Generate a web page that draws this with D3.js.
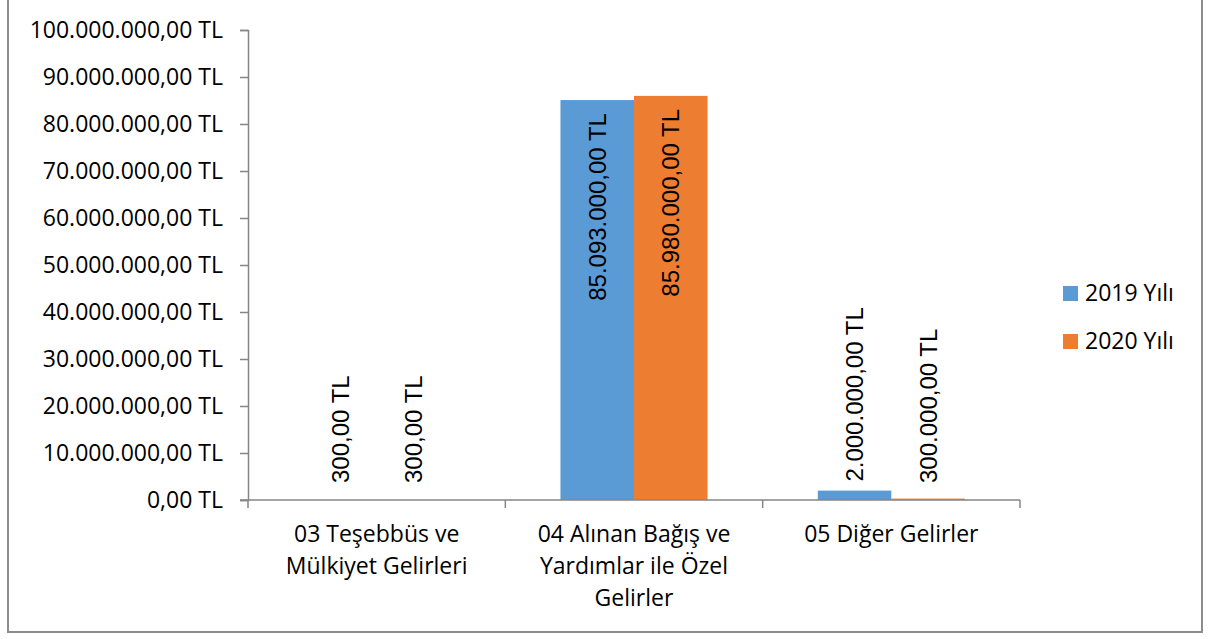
<!DOCTYPE html>
<html>
<head>
<meta charset="utf-8">
<script src="https://cdn.jsdelivr.net/npm/d3@7"></script>
<style>
  body { margin: 0; background: #fff; }
  svg { display: block; }
  .tick text { font-family: "Open Sans", sans-serif; font-size: 23px; fill: #000; }
</style>
</head>
<body>
<script>
// chart data
let categories = ["03 Teşebbüs ve\nMülkiyet Gelirleri", "04 Alınan Bağış ve\nYardımlar ile Özel\nGelirler", "05 Diğer Gelirler"];
let seriesNames = ["2019 Yılı", "2020 Yılı"];
let values2019 = [300, 85093000, 2000000];
let values2020 = [300, 85980000, 300000];
let yTicks = [0, 10000000, 20000000, 30000000, 40000000, 50000000, 60000000, 70000000, 80000000, 90000000, 100000000];

let colors = ["#5B9BD5", "#ED7D31"];

// turkish number format
let tr = d3.formatLocale({decimal: ",", thousands: ".", grouping: [3], currency: ["", " TL"]});
let fmt = (v) => tr.format(",.2f")(v) + " TL";

let width = 1214, height = 639;
let margin = {left: 248, right: 194, top: 30, bottom: 139};

let svg = d3.select("body").append("svg").attr("width", width).attr("height", height);

// outer border
svg.append("rect")
  .attr("x", 8).attr("y", -2).attr("width", 1194).attr("height", 634)
  .attr("fill", "none").attr("stroke", "#8c8c8c").attr("stroke-width", 2);

let y = d3.scaleLinear().domain([0, 100000000]).range([height - margin.bottom, margin.top]);
let x = d3.scaleBand().domain(categories).range([margin.left, width - margin.right]).padding(0);
let xs = d3.scaleBand().domain(seriesNames).range([0, x.bandwidth()]).paddingInner(0).paddingOuter(0.75);

// bars
let data = [];
categories.forEach((c, i) => {
  data.push({cat: c, s: seriesNames[0], v: values2019[i], col: colors[0]});
  data.push({cat: c, s: seriesNames[1], v: values2020[i], col: colors[1]});
});

svg.append("g").selectAll("rect")
  .data(data).enter().append("rect")
  .attr("x", (d) => x(d.cat) + xs(d.s))
  .attr("y", (d) => y(d.v))
  .attr("width", xs.bandwidth())
  .attr("height", (d) => y(0) - y(d.v))
  .attr("fill", (d) => d.col);

// y axis
let yAxis = d3.axisLeft(y).tickValues(yTicks).tickFormat(fmt).tickSize(8).tickPadding(17);
let yg = svg.append("g").attr("transform", "translate(" + margin.left + ",0)").call(yAxis);
yg.select(".domain").attr("stroke", "#868686").attr("stroke-width", 1.5);
yg.selectAll(".tick line").attr("stroke", "#868686").attr("stroke-width", 1.5);

// x axis baseline + boundary ticks
let xg = svg.append("g");
xg.append("line")
  .attr("x1", 240).attr("x2", x.range()[1])
  .attr("y1", y(0)).attr("y2", y(0))
  .attr("stroke", "#868686").attr("stroke-width", 1.5);
let bounds = categories.map((c) => x(c)).concat([x.range()[1]]);
xg.selectAll(".bt").data(bounds).enter().append("line")
  .attr("x1", (d) => d).attr("x2", (d) => d)
  .attr("y1", y(0)).attr("y2", y(0) + 8)
  .attr("stroke", "#868686").attr("stroke-width", 1.5);

// category labels
let catText = xg.selectAll(".cat").data(categories).enter().append("text")
  .attr("text-anchor", "middle")
  .attr("font-family", "Open Sans, sans-serif").attr("font-size", 23)
  .attr("fill", "#000");
catText.each(function(c) {
  let lines = c.split("\n");
  let t = d3.select(this);
  lines.forEach((l, i) => {
    t.append("tspan").attr("x", x(c) + x.bandwidth() / 2).attr("y", 542 + i * 32).text(l);
  });
});

// data labels
svg.append("g").selectAll("text")
  .data(data).enter().append("text")
  .attr("font-family", "Liberation Sans, Arial, sans-serif").attr("font-size", 24)
  .attr("fill", "#000")
  .attr("dy", "0.36em")
  .attr("text-anchor", (d) => (y(0) - y(d.v) > 250) ? "end" : "start")
  .attr("transform", (d) => {
    let cx = x(d.cat) + xs(d.s) + xs.bandwidth() / 2;
    let inside = (y(0) - y(d.v) > 250);
    let ty = inside ? y(d.v) + 13 : Math.min(y(d.v) - 9, y(0) - 17);
    return "translate(" + cx + "," + ty + ") rotate(-90)";
  })
  .text((d) => fmt(d.v));

// legend
let lg = svg.append("g").attr("transform", "translate(1063,0)");
seriesNames.forEach((s, i) => {
  lg.append("rect").attr("x", 0).attr("y", 286 + i * 48).attr("width", 15).attr("height", 15).attr("fill", colors[i]);
  lg.append("text").attr("x", 22).attr("y", 293 + i * 48).attr("dy", "0.35em")
    .attr("font-family", "Open Sans, sans-serif").attr("font-size", 23).attr("fill", "#000")
    .text(s);
});
</script>
</body>
</html>
